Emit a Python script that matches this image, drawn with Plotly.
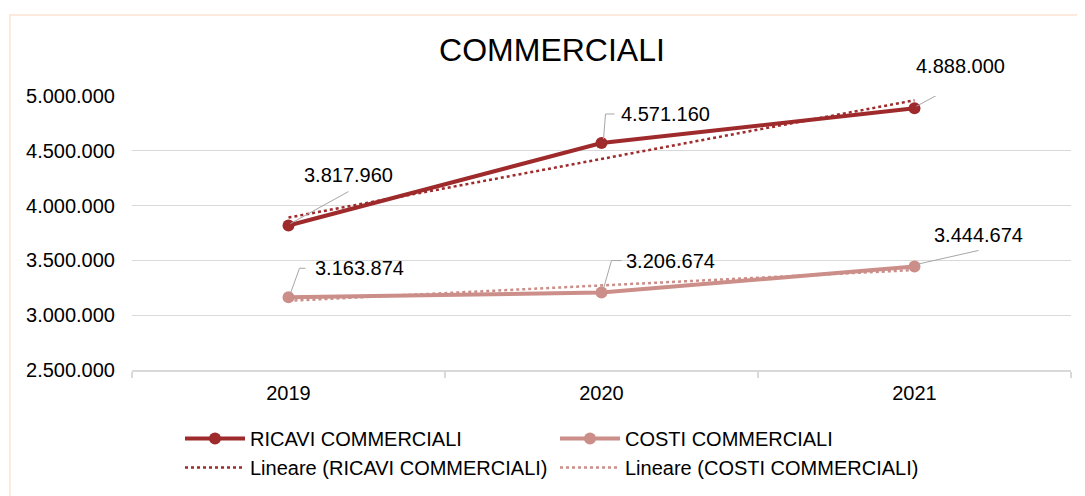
import numpy as np
import plotly.graph_objects as go

# --- data -----------------------------------------------------------------
anni = ["2019", "2020", "2021"]
ricavi = [3817960, 4571160, 4888000]
costi = [3163874, 3206674, 3444674]
y_ticks = [2500000, 3000000, 3500000, 4000000, 4500000, 5000000]

_RED = "#9E2A2B"
_PINK = "#CB8E89"
_GRID = "#D9D9D9"
_LEADER = "#A6A6A6"
_FONT = "Liberation Sans, Arial, sans-serif"

# page body has an 8px margin, so the figure is a bit smaller than the window
W, H = 1077, 488


def _it(v):
    return f"{v:,}".replace(",", ".")


def _trend(vals):
    # linear trendline (least squares), like Excel's "Lineare"
    idx = np.arange(len(vals))
    k, q = np.polyfit(idx, vals, 1)
    return list(k * idx + q)


fig = go.Figure()
fig.add_trace(go.Scatter(
    x=anni, y=ricavi, name="RICAVI COMMERCIALI", mode="lines+markers",
    line=dict(color=_RED, width=4), marker=dict(size=12, color=_RED),
    cliponaxis=False,
))
fig.add_trace(go.Scatter(
    x=anni, y=costi, name="COSTI COMMERCIALI", mode="lines+markers",
    line=dict(color=_PINK, width=4), marker=dict(size=12, color=_PINK),
    cliponaxis=False,
))
fig.add_trace(go.Scatter(
    x=anni, y=_trend(ricavi), name="Lineare (RICAVI COMMERCIALI)",
    mode="lines", line=dict(color=_RED, width=2.5, dash="dot"),
    cliponaxis=False,
))
fig.add_trace(go.Scatter(
    x=anni, y=_trend(costi), name="Lineare (COSTI COMMERCIALI)",
    mode="lines", line=dict(color=_PINK, width=2.5, dash="dot"),
    cliponaxis=False,
))

# data labels: (text offset px, leader path px relative to the point, y up)
labels_r = [((60, 51), "M2,2 L60,34"),
            ((64, 29), "M2,4 L4,29 L13,29"),
            ((46, 42), "M2,2 L46,26")]
labels_c = [((71, 29), "M2,4 L11,29 L17,29"),
            ((69, 32), "M2,4 L10,32 L20,32"),
            ((64, 31), "M2,2 L64,16")]

for serie, specs in ((ricavi, labels_r), (costi, labels_c)):
    for i, (v, ((dx, dy), path)) in enumerate(zip(serie, specs)):
        fig.add_annotation(x=i, y=v, text=_it(v), showarrow=False,
                           xshift=dx, yshift=dy,
                           font=dict(size=20, color="#000000"))
        fig.add_shape(type="path", xref="x", yref="y",
                      xsizemode="pixel", ysizemode="pixel",
                      xanchor=i, yanchor=v, path=path,
                      line=dict(color=_LEADER, width=1))

# faint chart frame
fig.add_shape(type="rect", xref="paper", yref="paper",
              x0=-0.13, x1=1.03, y0=-0.6, y1=1.2956,
              line=dict(color="#FBE3D3", width=1.5), layer="below")

fig.update_layout(
    width=W, height=H,
    margin=dict(l=124, r=14, t=88, b=126, autoexpand=False),
    paper_bgcolor="#FFFFFF", plot_bgcolor="#FFFFFF",
    font=dict(family=_FONT, size=20, color="#000000"),
    separators=",.",
    title=dict(text="COMMERCIALI", xref="container", yref="container",
               x=544 / W, y=1 - 42 / H, xanchor="center",
               yanchor="middle", font=dict(size=32, color="#000000")),
    showlegend=True,
    legend=dict(orientation="h", xref="container", yref="container",
                x=172 / W, y=1 - 411 / H, xanchor="left", yanchor="top",
                itemwidth=60, entrywidth=300, font=dict(size=20),
                bgcolor="rgba(0,0,0,0)"),
)
fig.update_xaxes(
    type="category", range=[-0.5, 2.5], showgrid=False, showline=True,
    linecolor=_GRID, linewidth=1.5, ticks="outside", tickson="boundaries",
    ticklen=6, tickcolor=_GRID, tickwidth=1.5, ticklabelstandoff=4,
    tickfont=dict(size=20), zeroline=False,
)
fig.update_yaxes(
    range=[2500000, 5000000], tickvals=y_ticks, tickformat=",",
    gridcolor=_GRID, gridwidth=1, showline=False, zeroline=False,
    ticks="", ticklabelstandoff=16, tickfont=dict(size=20),
)

fig.write_html("out.html")
